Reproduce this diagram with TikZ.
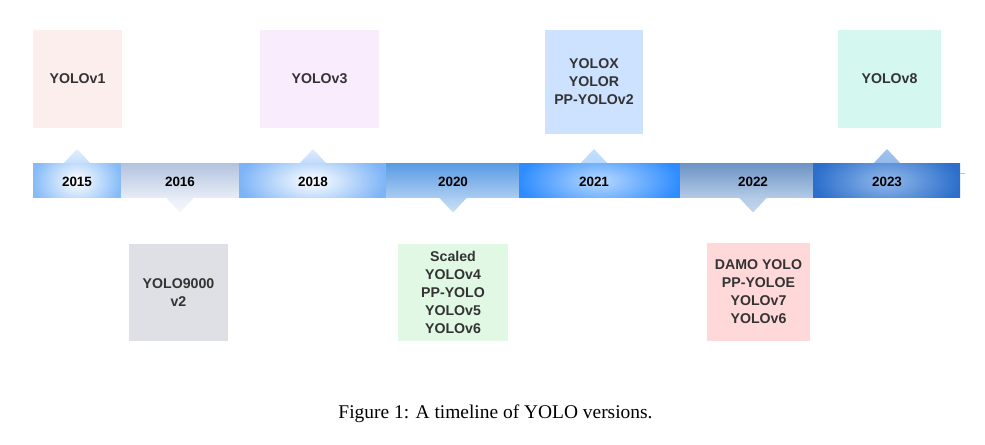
\documentclass[tikz,border=0pt]{standalone}
\usepackage{fontspec}
\setmainfont{Liberation Serif}
\newfontfamily\boxfont{Liberation Sans}
\definecolor{bv1}{HTML}{FDEEEE}
\definecolor{bv3}{HTML}{F8ECFD}
\definecolor{bvx}{HTML}{CDE2FF}
\definecolor{bv8}{HTML}{D4F7F0}
\definecolor{b9k}{HTML}{DEE0E5}
\definecolor{bsc}{HTML}{E1F8E4}
\definecolor{bdm}{HTML}{FFD9D9}
\definecolor{txt}{HTML}{333333}
\definecolor{o15}{HTML}{86BBF8}
\definecolor{t16}{HTML}{B4C3DE}
\definecolor{b16}{HTML}{E7EDF7}
\definecolor{o18}{HTML}{7DB4F7}
\definecolor{t20}{HTML}{5C9CE4}
\definecolor{b20}{HTML}{AACCF1}
\definecolor{i21}{HTML}{B8D8FF}
\definecolor{o21}{HTML}{2E8CFF}
\definecolor{t22}{HTML}{6E95C5}
\definecolor{b22}{HTML}{B4CBE6}
\definecolor{i23}{HTML}{92B9EA}
\definecolor{o23}{HTML}{2B6ECB}
\tikzset{
  vbox/.style={fill=#1, draw=none, inner sep=0pt, align=center, text=txt,
    font=\boxfont\bfseries\fontsize{14.2}{18}\selectfont},
  yr/.style={inner sep=0pt, text=black, font=\boxfont\bfseries\fontsize{13.5}{16}\selectfont},
}
\newcommand{\radseg}[4]{%
  \begin{scope}
    \clip (#1,164) rectangle (#2,198);
    \shade[inner color=#3, outer color=#4] (#1,146) rectangle (#2,216);
  \end{scope}}
\begin{document}
\begin{tikzpicture}[x=1bp,y=-1bp]
\useasboundingbox (0,0) rectangle (985,445);
% boxes
\node[vbox=bv1, minimum width=89bp, minimum height=98bp] (v1) at (77.5,79) {YOLOv1};
\node[vbox=bv3, minimum width=119bp, minimum height=98bp] (v3) at (319.5,79) {YOLOv3};
\node[vbox=bvx, minimum width=98bp, minimum height=104bp] (vx) at (594,82) {YOLOX\\YOLOR\\PP-YOLOv2};
\node[vbox=bv8, minimum width=103bp, minimum height=98bp] (v8) at (889.5,79) {YOLOv8};
\node[vbox=b9k, minimum width=99bp, minimum height=97bp] (v9k) at (178.5,292.5) {YOLO9000\\v2};
\node[vbox=bsc, minimum width=110bp, minimum height=97bp] (vsc) at (453,292.5) {Scaled\\YOLOv4\\PP-YOLO\\YOLOv5\\YOLOv6};
\node[vbox=bdm, minimum width=103bp, minimum height=98bp] (vdm) at (758.5,292) {DAMO YOLO\\PP-YOLOE\\YOLOv7\\YOLOv6};
% pointer triangles
\shade[top color=o15!25, bottom color=o15!50] (62,165) -- (77,149) -- (92,165) -- cycle;
\shade[top color=b16, bottom color=b16!40] (165.5,197) -- (180,212.5) -- (194.5,197) -- cycle;
\shade[top color=o18!25, bottom color=o18!50] (298,165) -- (313,149) -- (328,165) -- cycle;
\shade[top color=b20, bottom color=b20!60] (438.5,197) -- (453,212.5) -- (467.5,197) -- cycle;
\shade[top color=i21!85, bottom color=i21] (579,165) -- (594,149) -- (609,165) -- cycle;
\shade[top color=b22, bottom color=b22!80] (738.5,197) -- (753,212.5) -- (767.5,197) -- cycle;
\shade[top color=i23!85, bottom color=i23] (872,165) -- (887,149) -- (902,165) -- cycle;
% bar segments
\radseg{33}{121}{white}{o15}
\shade[top color=t16, bottom color=b16] (121,164) rectangle (239,198);
\radseg{239}{386}{white}{o18}
\shade[top color=t20, bottom color=b20] (386,164) rectangle (519,198);
\radseg{519}{680}{i21}{o21}
\shade[top color=t22, bottom color=b22] (680,164) rectangle (813,198);
\radseg{813}{960}{i23}{o23}
\coordinate (stubA) at (960,173.7);
\coordinate (stubB) at (965,173.7);
\draw[black!25, line width=1.5bp] (stubA) -- (stubB);
% years
\node[yr] (y15) at (77,181.5) {2015};
\node[yr] (y16) at (180,182) {2016};
\node[yr] (y18) at (313,181.5) {2018};
\node[yr] (y20) at (453,182) {2020};
\node[yr] (y21) at (594,181.5) {2021};
\node[yr] (y22) at (753,182) {2022};
\node[yr] (y23) at (887,181.5) {2023};
% caption
\node[anchor=base, inner sep=0pt, font=\fontsize{19.5}{22}\selectfont] (cap) at (495.5,418) {Figure 1: A timeline of YOLO versions.};
\end{tikzpicture}
\end{document}
